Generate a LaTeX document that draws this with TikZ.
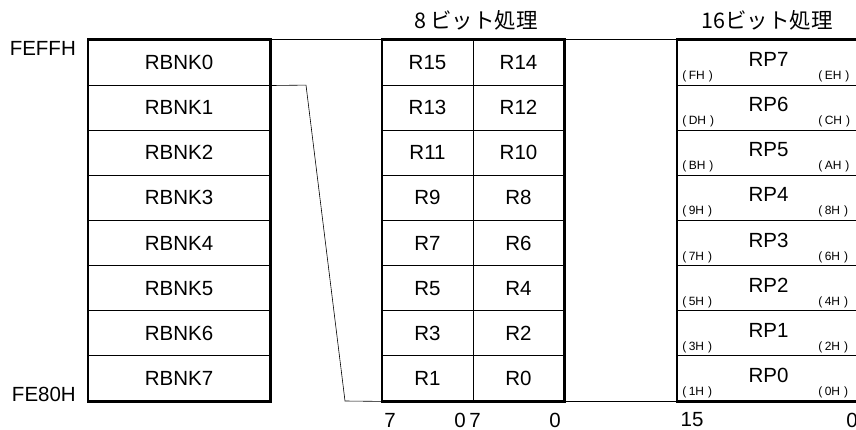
\documentclass[tikz,border=0pt]{standalone}
\usepackage{fontspec}
\setmainfont{Liberation Sans}
\newfontfamily\cjk{Noto Sans CJK JP}
\begin{document}
\begin{tikzpicture}[x=1pt,y=-1pt,
  cell/.style={draw,line width=0.8pt,minimum height=45.125pt,inner sep=0pt,font=\fontsize{20.5}{20}\selectfont},
  lcell/.style={cell,minimum width=182pt},
  mcell/.style={cell,minimum width=91pt},
  rcell/.style={cell,minimum width=183pt},
  frame/.style={draw,line width=2.2pt},
  conn/.style={draw,line width=0.6pt},
  lbl/.style={font=\fontsize{20.5}{20}\selectfont,inner sep=0pt},
  hex/.style={font=\fontsize{12}{13}\selectfont,inner sep=0pt},
  ttl/.style={font=\cjk\fontsize{21.5}{22}\selectfont,inner sep=0pt}]
\useasboundingbox (0,0) rectangle (856,430);
\begin{scope}
\clip (0,0) rectangle (856,430);
% left column
\foreach \i in {0,...,7}{
  \node[lcell] (L\i) at (179,{40+45.125*(\i+0.5)}) {RBNK\i};
}
\draw[frame] (L0.north west) rectangle (L7.south east);
% middle column
\foreach \i/\a/\b in {0/R15/R14,1/R13/R12,2/R11/R10,3/R9/R8,4/R7/R6,5/R5/R4,6/R3/R2,7/R1/R0}{
  \node[mcell] (MA\i) at (427.5,{40+45.125*(\i+0.5)}) {\a};
  \node[mcell] (MB\i) at (518.5,{40+45.125*(\i+0.5)}) {\b};
}
\draw[frame] (MA0.north west) rectangle (MB7.south east);
% right column
\foreach \i/\p/\hi/\lo in {0/7/F/E,1/6/D/C,2/5/B/A,3/4/9/8,4/3/7/6,5/2/5/4,6/1/3/2,7/0/1/0}{
  \node[rcell] (R\i) at (768.5,{40+45.125*(\i+0.5)}) {};
  \node[lbl] (RP\i) at ([yshift=3pt]R\i.center) {RP\p};
  \node[hex,anchor=base west] (H\i) at ([xshift=5.5pt,yshift=6pt]R\i.south west) {(\kern2.5pt\hi H\kern4pt)};
  \node[hex,anchor=base west] (G\i) at ([xshift=141.5pt,yshift=6pt]R\i.south west) {(\kern2.5pt\lo H\kern4pt)};
}
\draw[frame] (R0.north west) rectangle (R7.south east);
% connectors
\draw[conn] (L0.north east) -- (MA0.north west);
\draw[conn] (MB0.north east) -- (R0.north west);
\draw[conn] (MB7.south east) -- (R7.south west);
\coordinate (k1) at (306,85.1);
\coordinate (k2) at (345,401);
\draw[conn] (L0.south east) -- (k1) -- (k2) -- (MA7.south west);
\end{scope}
% labels
\node[lbl,anchor=north east] (top) at (76,41) {FEFFH};
\node[lbl,anchor=south east] (bot) at (76,402) {FE80H};
\node[ttl] (t8) at (476,20) {8\kern4pt ビット処理};
\node[ttl] (t16) at (767,20) {16ビット処理};
\node[lbl] (b1) at (390,420) {7};
\node[lbl] (b2) at (460,420) {0};
\node[lbl] (b3) at (475,420) {7};
\node[lbl] (b4) at (555,420) {0};
\node[lbl] (b5) at (692,420) {15};
\node[lbl] (b6) at (852,420) {0};
\end{tikzpicture}
\end{document}
